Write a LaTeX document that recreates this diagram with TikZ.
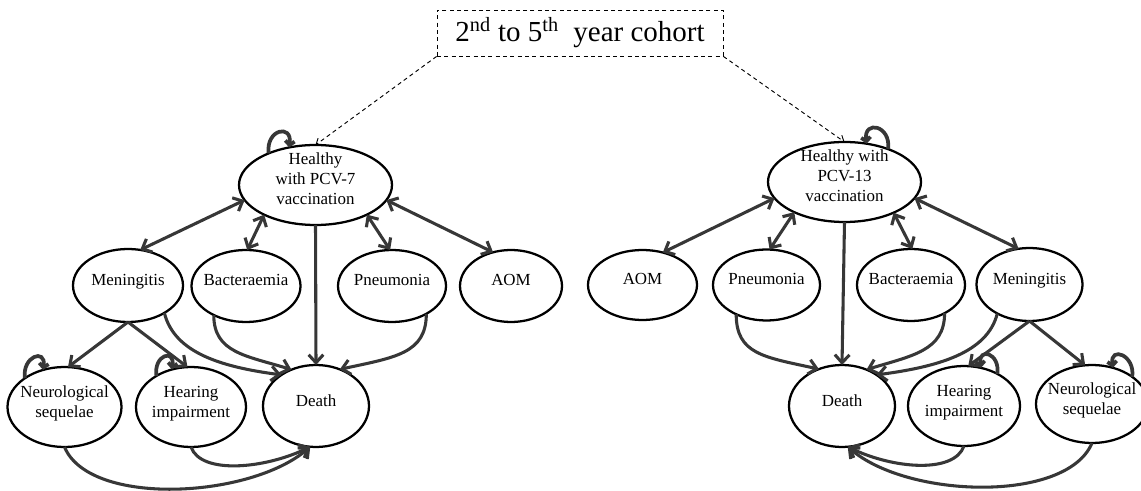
\documentclass[tikz,border=0pt]{standalone}
\usepackage{fontspec}
\setmainfont{Liberation Serif}
\usetikzlibrary{shapes.geometric,arrows.meta}
\definecolor{arrc}{RGB}{55,55,55}
\newcommand{\nt}[1]{\makebox[0pt]{\smash{\begin{tabular}{@{}c@{}}#1\end{tabular}}}}
\begin{document}
\begin{tikzpicture}[x=0.75pt,y=-0.75pt,
  ell/.style 2 args={ellipse, draw=black, line width=1.7pt, inner sep=0pt, outer sep=0pt,
    minimum width={#1*1.5pt}, minimum height={#2*1.5pt}, font=\fontsize{12.7}{15}\selectfont},
  arr/.style={draw=arrc, line width=2.3pt, -{Straight Barb[length=6pt,width=11pt]}},
  dbl/.style={draw=arrc, line width=2.3pt, {Straight Barb[length=6pt,width=11pt]}-{Straight Barb[length=6pt,width=11pt]}},
  lp/.style={draw=arrc, line width=2.8pt, -{Straight Barb[length=3pt,width=7pt]}},
  dsh/.style={draw=black, line width=0.7pt, dash pattern=on 3pt off 2.5pt}
]
\useasboundingbox (0,0) rectangle (1141,491);

% title
\node[dsh, draw, rectangle, inner sep=0pt, minimum width=214.5pt, minimum height=34.5pt,
  font=\fontsize{21.75}{26}\selectfont] (title) at (580,33)
  {2\textsuperscript{nd} to 5\textsuperscript{th}\ \ year cohort};

% left model
\node[ell={76.5}{40}] (hl) at (315.5,185) {\nt{Healthy\\with PCV-7\\vaccination}};
\node[ell={55}{36.5}] (ml) at (128,285.5) {\nt{Meningitis}};
\node[ell={54.5}{36}] (bl) at (246,286) {\nt{Bacteraemia}};
\node[ell={54}{36}] (pl) at (392,286) {\nt{Pneumonia}};
\node[ell={51}{36}] (al) at (511,286) {\nt{AOM}};
\node[ell={53}{41}] (dl) at (316,406) {\nt{Death}};
\node[ell={57}{40}] (nl) at (64.5,407) {\nt{Neurological\\sequelae}};
\node[ell={55}{40}] (il) at (191,407) {\nt{Hearing\\impairment}};

% right model
\node[ell={76.5}{40}] (hr) at (844.5,182) {\nt{Healthy with\\PCV-13\\vaccination}};
\node[ell={54.5}{35}] (ar) at (642.5,285) {\nt{AOM}};
\node[ell={53.5}{35.5}] (pr) at (766.5,285) {\nt{Pneumonia}};
\node[ell={54}{36}] (br) at (911,285) {\nt{Bacteraemia}};
\node[ell={53}{36.5}] (mr) at (1029.5,284.5) {\nt{Meningitis}};
\node[ell={53}{41}] (dr) at (842,406) {\nt{Death}};
\node[ell={56}{40}] (ir) at (964,406) {\nt{Hearing\\impairment}};
\node[ell={56}{39}] (nr) at (1092,404) {\nt{Neurological\\sequelae}};

% dashed cohort links
\draw[dsh, -{Straight Barb[length=4pt,width=6pt]}] (title.south west) -- (hl.north);
\draw[dsh, -{Straight Barb[length=4pt,width=6pt]}] (title.south east) -- (hr.north);

% left connectors
\draw[dbl] (hl.192) -- (ml.71);
\draw[dbl] (hl.210) -- (bl.88);
\draw[dbl] (hl.330) -- (pl.93);
\draw[dbl] (hl.348) -- (al.118);
\draw[arr] (hl.south) -- (dl.north);
\draw[arr] (ml.south) -- (nl.85);
\draw[arr] (ml.south) -- (il.95);
\draw[arr] (ml.323) .. controls +(10,40) and +(-60,-8) .. (dl.138);
\draw[arr] (bl.222) .. controls +(0,38) and +(-45,-14) .. (dl.124);
\draw[arr] (pl.321) .. controls +(0,40) and +(55,-12) .. (dl.57);
\draw[arr] (nl.270) .. controls +(25,60) and +(-60,52) .. (dl.262);
\draw[arr] (il.270) .. controls +(10,28) and +(-45,22) .. (dl.262);
\draw[lp] (hl.146) .. controls +(-3,-24) and +(3,-24) .. (hl.125);
\draw[lp] (nl.144) .. controls +(-3,-22) and +(3,-22) .. (nl.120);
\draw[lp] (il.138) .. controls +(-3,-21) and +(3,-21) .. (il.117);

% right connectors
\draw[dbl] (hr.193) -- (ar.58);
\draw[dbl] (hr.211) -- (pr.85);
\draw[dbl] (hr.328) -- (br.88);
\draw[dbl] (hr.347) -- (mr.107);
\draw[arr] (hr.south) -- (dr.north);
\draw[arr] (mr.south) -- (ir.84);
\draw[arr] (mr.south) -- (nr.100);
\draw[arr] (pr.224) .. controls +(0,40) and +(-55,-12) .. (dr.122);
\draw[arr] (br.320) .. controls +(0,38) and +(45,-14) .. (dr.56);
\draw[arr] (mr.222) .. controls +(-10,40) and +(60,-8) .. (dr.42);
\draw[arr] (nr.270) .. controls +(-25,60) and +(60,52) .. (dr.278);
\draw[arr] (ir.270) .. controls +(-10,28) and +(45,22) .. (dr.278);
\draw[lp] (hr.37) .. controls +(3,-24) and +(-3,-24) .. (hr.60);
\draw[lp] (ir.44) .. controls +(3,-21) and +(-3,-21) .. (ir.66);
\draw[lp] (nr.34) .. controls +(3,-22) and +(-3,-22) .. (nr.60);
\end{tikzpicture}
\end{document}
